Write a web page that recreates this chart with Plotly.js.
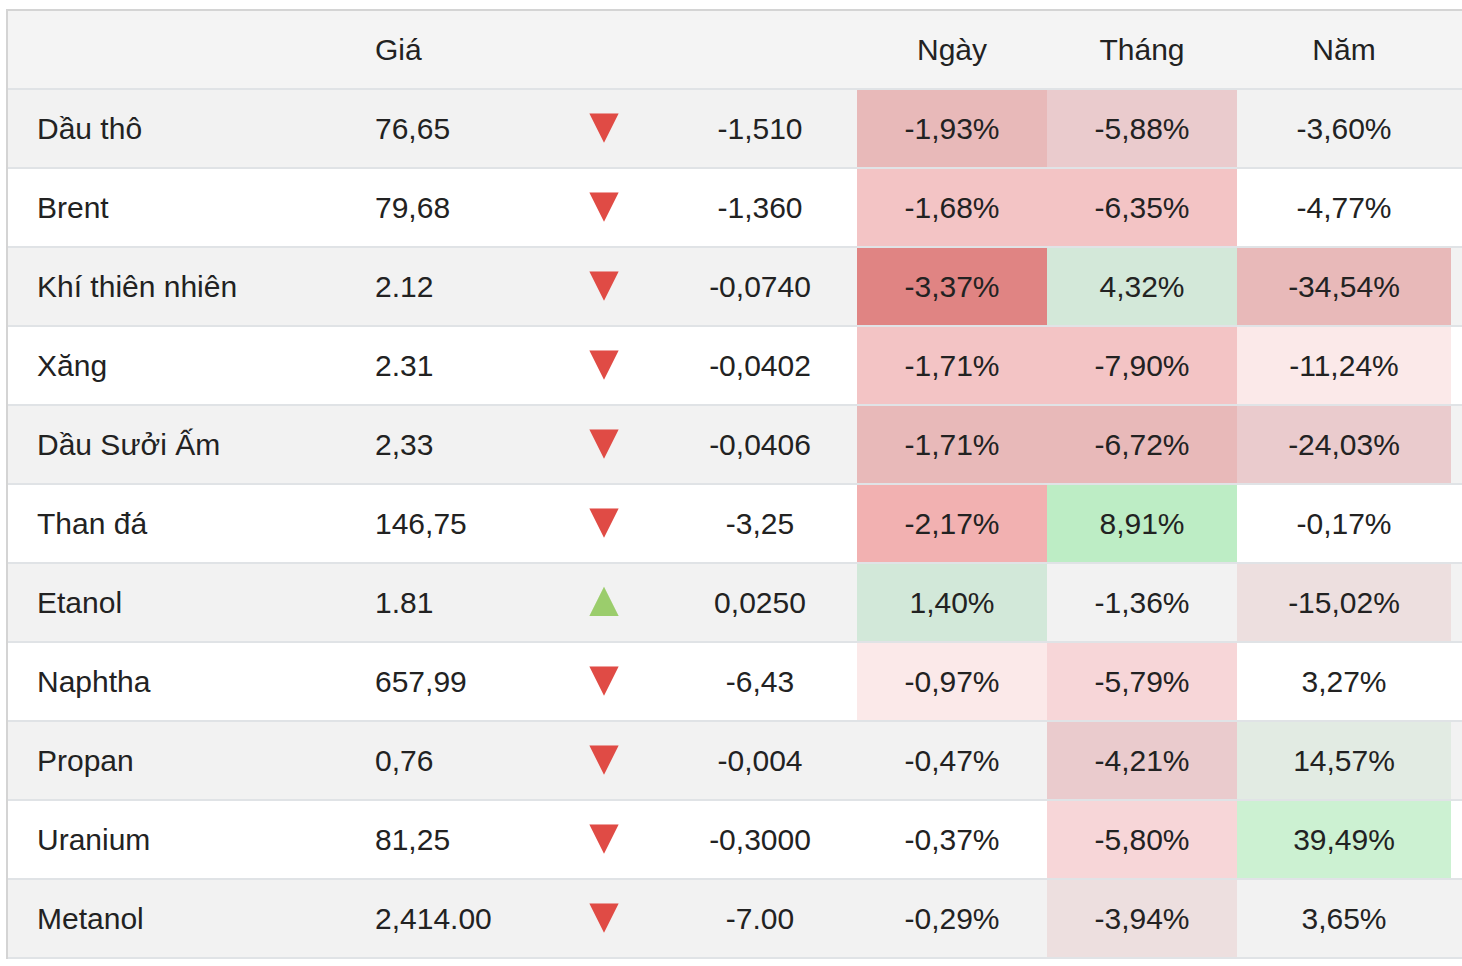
<!DOCTYPE html>
<html>
<head>
<meta charset="utf-8">
<script src="https://cdn.plot.ly/plotly-3.0.1.min.js"></script>
<style>
  html, body { margin: 0; padding: 0; background: #ffffff; }
  #chart { width: 1462px; height: 966px; }
</style>
</head>
<body>
<div id="chart"></div>
<script>
// ---------- data (as displayed) ----------
const headers = ['', 'Giá', '', '', 'Ngày', 'Tháng', 'Năm'];
const names = ['Dầu thô', 'Brent', 'Khí thiên nhiên', 'Xăng', 'Dầu Sưởi Ấm', 'Than đá', 'Etanol', 'Naphtha', 'Propan', 'Uranium', 'Metanol'];
const prices = ['76,65', '79,68', '2.12', '2.31', '2,33', '146,75', '1.81', '657,99', '0,76', '81,25', '2,414.00'];
const changes = ['-1,510', '-1,360', '-0,0740', '-0,0402', '-0,0406', '-3,25', '0,0250', '-6,43', '-0,004', '-0,3000', '-7.00'];
const dayPct = ['-1,93%', '-1,68%', '-3,37%', '-1,71%', '-1,71%', '-2,17%', '1,40%', '-0,97%', '-0,47%', '-0,37%', '-0,29%'];
const monthPct = ['-5,88%', '-6,35%', '4,32%', '-7,90%', '-6,72%', '8,91%', '-1,36%', '-5,79%', '-4,21%', '-5,80%', '-3,94%'];
const yearPct = ['-3,60%', '-4,77%', '-34,54%', '-11,24%', '-24,03%', '-0,17%', '-15,02%', '3,27%', '14,57%', '39,49%', '3,65%'];

// ---------- cell highlight colours (null = row background) ----------
const dayFill = ['#e8b9b9', '#f3c4c5', '#e08483', '#f3c4c5', '#e8b9b9', '#f2b1b1', '#d2e8d9', '#fbe9e9', null, null, null];
const monthFill = ['#eacbcd', '#f3c4c5', '#d3e8d9', '#f3c4c5', '#e8b9b9', '#bdedc5', null, '#f7d6d8', '#eacbcd', '#f7d6d8', '#eddfdf'];
const yearFill = [null, null, '#e8b9b9', '#fbe9e9', '#eacbcd', null, '#eddfdf', null, '#e2ebe3', '#ccf1d2', null];

// ---------- layout constants (pixels) ----------
const W = 1462, H = 966;
const ML = 8, MR = 0, MT = 11, MB = 7;
const ROW_PX = 79;            // row pitch
const GAP_PX = 2;             // separator thickness
const FIRST_CENTER = 49.5;    // pixel centre of header row
const TEXT_SHIFT_PX = 3;      // baseline nudge for body text
const HEAD_SHIFT_PX = 3;      // baseline nudge for header text
const ARROW_SHIFT_PX = 0.5;   // baseline nudge for arrow glyphs
const FONT = 'Liberation Sans, Arial, Helvetica, sans-serif';
const FS = 30;
const ARROW_FS = 50;
const TXT = '#222222';
const HEADER_BG = '#f4f4f4', ODD_BG = '#f2f2f2', EVEN_BG = '#ffffff';
const SEP = '#e0e3e6', BORDER = '#d4d4d4';
const UP = '#9bcd6c', DOWN = '#e04b45';

const col = {
  name: { left: 37 },
  price: { left: 375 },
  arrow: { center: 604 },
  change: { center: 760 },
  day: { start: 857, end: 1047 },
  month: { start: 1047, end: 1237 },
  year: { start: 1237, end: 1451 }
};

const n = names.length;
const rowsAll = [...Array(n + 1).keys()];           // 0 = header
const rowsData = rowsAll.slice(1);
const rowBg = rowsAll.map(k => k === 0 ? HEADER_BG : (k % 2 === 1 ? ODD_BG : EVEN_BG));
const ty = (rows, px) => rows.map(k => k + px / ROW_PX);
const barW = (ROW_PX - GAP_PX) / ROW_PX;

const yTop = (MT - FIRST_CENTER) / ROW_PX;
const yBot = (H - MB - FIRST_CENTER) / ROW_PX;
const mid = spec => (spec.start + spec.end) / 2;

function cellBar(spec, fills) {
  return {
    type: 'bar', orientation: 'h',
    y: rowsData,
    base: rowsData.map(() => spec.start),
    x: rowsData.map(() => spec.end - spec.start),
    width: barW,
    marker: { color: fills.map((c, i) => c || rowBg[i + 1]), line: { width: 0 } },
    hoverinfo: 'skip', showlegend: false
  };
}

function textTrace(x, y, text, pos, color, size) {
  return {
    type: 'scatter', mode: 'text',
    x: x, y: y, text: text, textposition: pos,
    textfont: { family: FONT, size: size || FS, color: color || TXT },
    hoverinfo: 'skip', showlegend: false, cliponaxis: false
  };
}

const isUp = changes.map(c => c.trim().charAt(0) !== '-');

const traces = [
  {
    type: 'bar', orientation: 'h',
    y: rowsAll,
    base: rowsAll.map(() => ML),
    x: rowsAll.map(() => W - ML),
    width: barW,
    marker: { color: rowBg, line: { width: 0 } },
    hoverinfo: 'skip', showlegend: false
  },
  cellBar(col.day, dayFill),
  cellBar(col.month, monthFill),
  cellBar(col.year, yearFill),
  // header
  textTrace([col.price.left], ty([0], HEAD_SHIFT_PX), [headers[1]], 'middle right'),
  textTrace([mid(col.day), mid(col.month), mid(col.year)], ty([0, 0, 0], HEAD_SHIFT_PX), headers.slice(4), 'middle center'),
  // body
  textTrace(rowsData.map(() => col.name.left), ty(rowsData, TEXT_SHIFT_PX), names, 'middle right'),
  textTrace(rowsData.map(() => col.price.left), ty(rowsData, TEXT_SHIFT_PX), prices, 'middle right'),
  textTrace(rowsData.map(() => col.arrow.center), ty(rowsData, ARROW_SHIFT_PX), isUp.map(u => u ? '▲' : '▼'), 'middle center',
            isUp.map(u => u ? UP : DOWN), ARROW_FS),
  textTrace(rowsData.map(() => col.change.center), ty(rowsData, TEXT_SHIFT_PX), changes, 'middle center'),
  textTrace(rowsData.map(() => mid(col.day)), ty(rowsData, TEXT_SHIFT_PX), dayPct, 'middle center'),
  textTrace(rowsData.map(() => mid(col.month)), ty(rowsData, TEXT_SHIFT_PX), monthPct, 'middle center'),
  textTrace(rowsData.map(() => mid(col.year)), ty(rowsData, TEXT_SHIFT_PX), yearPct, 'middle center')
];

const layout = {
  width: W, height: H,
  margin: { l: ML, r: MR, t: MT, b: MB, pad: 0 },
  paper_bgcolor: '#ffffff',
  plot_bgcolor: SEP,
  barmode: 'overlay',
  showlegend: false,
  xaxis: {
    range: [ML, W], fixedrange: true, showgrid: false, zeroline: false,
    showticklabels: false, ticks: '', side: 'top',
    showline: true, linecolor: BORDER, linewidth: 2
  },
  yaxis: {
    range: [yBot, yTop], fixedrange: true, showgrid: false, zeroline: false,
    showticklabels: false, ticks: '',
    showline: true, linecolor: BORDER, linewidth: 2
  },
  font: { family: FONT, color: TXT }
};

Plotly.newPlot('chart', traces, layout, { displayModeBar: false, staticPlot: true });
</script>
</body>
</html>
